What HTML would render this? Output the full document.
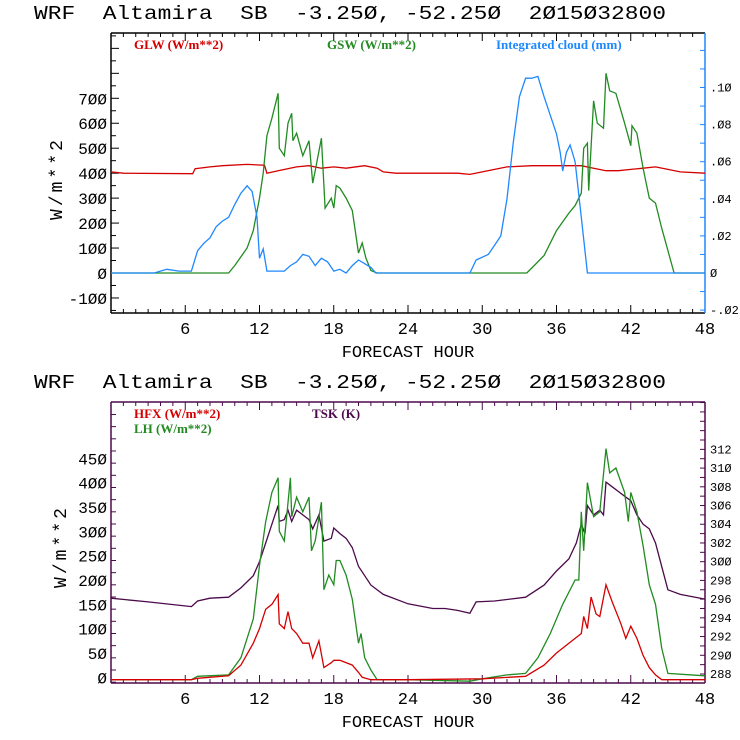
<!DOCTYPE html>
<html><head><meta charset="utf-8"><style>
body{margin:0;background:#fff}
svg{display:block}
text{font-family:"Liberation Mono",monospace}
.lg{font-family:"Liberation Serif",serif;font-weight:bold;font-size:13px}
</style></head><body>
<svg id="c" width="740" height="740" xmlns="http://www.w3.org/2000/svg"></svg>
<script>
// ---- top chart data ----
const glwHours=[0,1,6.6,6.8,8,9,11,12.4,12.6,13.5,15,16,17,18,19,20.5,21.5,22,23,28,29,30,31,32,34,38,39,40,41,42,43,44,45,46,48];
const glwValues=[405,400,398,418,425,430,435,432,400,410,425,430,420,425,420,430,420,405,400,400,395,405,415,425,430,430,420,410,410,415,420,425,415,405,400];
const gswHours=[0,9.5,10,11,11.5,12,12.3,12.6,13,13.5,13.6,14,14.3,14.6,14.7,15,15.5,16,16.3,16.5,17,17.3,17.8,18,18.2,18.5,19,19.5,20,20.3,20.6,21,21.5,33.6,34,35,36,37,37.5,38,38.2,38.5,38.6,39,39.3,39.8,40,40.3,40.8,41.5,42,42.1,42.5,43,43.5,44,44.5,45.5,48];
const gswValues=[0,0,30,100,170,300,400,550,620,720,500,470,600,640,530,560,470,530,360,410,540,260,300,260,350,340,300,250,80,120,60,10,0,0,20,70,170,240,270,320,500,520,330,690,600,580,800,730,720,600,510,590,560,420,300,280,180,0,0];
const cloudHours=[0,3.5,4.5,5.5,6.5,7,7.5,8,8.5,9,9.5,10,10.5,11,11.4,11.8,12,12.3,12.6,14,14.5,15,15.5,16,16.5,17,17.5,18,18.5,19,19.5,20,20.5,21,21.4,29,29.5,30.5,31,31.5,32,32.5,33,33.5,34,34.5,35,35.5,36,36.3,36.5,36.8,37.1,37.5,38,38.5,48];
const cloudValues=[0,0,.002,.001,.001,.012,.016,.019,.025,.028,.03,.037,.043,.047,.044,.03,.008,.013,.001,.001,.004,.006,.01,.009,.004,.008,.006,.001,.002,0,.004,.007,.005,.003,0,0,.007,.01,.015,.02,.04,.07,.095,.105,.105,.106,.095,.085,.075,.065,.055,.065,.069,.06,.03,0,0];
const topLeftTicks=[-100,0,100,200,300,400,500,600,700];
const topRightTicks=[-.02,0,.02,.04,.06,.08,.10];
const xTicks=[6,12,18,24,30,36,42,48];
// ---- bottom chart data ----
const tskHours=[0,3,6.5,7,8,9.5,10.5,11.5,12,12.5,13,13.5,13.6,14,14.3,14.6,15,15.5,16,16.3,16.8,17.2,17.8,18,18.5,19,19.5,20,20.5,21,22,24,26,27,28,29,29.5,31,33.5,35,36,37,37.6,38,38.3,38.5,39,39.5,39.8,40,40.5,41,41.5,42,42.5,43,43.5,44,44.5,45,46,48];
const tskValues=[296.1,295.7,295.2,295.8,296.1,296.2,297.2,298.5,300,302,304,306,304.3,304.5,305.5,304.3,305.5,305,304.5,303.5,305,302.2,302.5,303.6,303,302.5,301.5,299.5,298.5,297.5,296.5,295.5,295,295,294.8,294.5,295.7,295.8,296.2,297.5,299,300.3,302,304,303,306,305,305.5,305,308.5,308,307.5,307,306.5,305,304,303.5,302,299.5,297,296.5,296];
const lhHours=[0,6.5,7,9.5,10.5,11.5,12,12.5,13,13.5,13.6,14,14.5,14.6,15,15.5,16,16.2,16.5,17,17.2,17.6,18,18.2,18.5,19,19.5,20,20.2,20.5,21,21.5,24,29,30,32,33.5,34.5,35.5,36.5,37.5,37.8,38,38.2,38.5,39,39.5,40,40.3,40.8,41.5,41.8,42,42.5,43,43.5,44,44.5,45,48];
const lhValues=[-5,-5,2,5,40,120,230,320,380,410,300,280,410,330,370,340,370,260,280,360,180,210,190,240,240,210,160,70,90,40,15,-5,-5,-8,-3,5,8,40,90,150,200,200,340,260,400,330,340,470,420,430,380,320,380,340,270,190,150,60,8,3];
const hfxHours=[0,6.5,7,9.5,10.5,11.5,12,12.5,13,13.5,13.6,14,14.3,14.6,15,15.5,16,16.3,16.8,17.2,17.8,18,18.5,19.5,20,20.3,21,24,30,33.5,35,36,37,37.5,38,38.2,38.5,38.8,39.2,39.5,40,40.5,41.2,41.6,42,42.5,43,43.5,44,44.5,48];
const hfxValues=[-5,-5,-2,3,25,70,100,140,150,170,110,100,135,100,90,70,70,40,75,20,30,35,35,25,10,0,-5,-5,-3,2,25,50,70,80,90,125,100,165,130,125,190,155,110,80,105,80,45,20,5,-5,-5];
const botLeftTicks=[0,50,100,150,200,250,300,350,400,450];
const botRightTicks=[288,290,292,294,296,298,300,302,304,306,308,310,312];

const NS='http://www.w3.org/2000/svg';
const svg=document.getElementById('c');
function mk(tag,attrs,parent){const e=document.createElementNS(NS,tag);for(const k in attrs)e.setAttribute(k,attrs[k]);(parent||svg).appendChild(e);return e;}
const X0=111,X1=705;
function xs(h){return X0+(X1-X0)*h/48;}

function panel(cfg){
  const g=mk('g',{});
  
  
  const t=mk('text',{x:34,y:cfg.top-14,'font-size':'19px',fill:'#000','textLength':632,'lengthAdjust':'spacingAndGlyphs','xml:space':'preserve'},g);
  t.setAttribute('style','white-space:pre');
  t.textContent='WRF  Altamira  SB  -3.25\u00d8, -52.25\u00d8  2\u00d815\u00d832800';
  
  
  const yL=v=>cfg.y0+(v-cfg.l0)*cfg.lk;
  const yR=v=>cfg.y0r+(v-cfg.r0)*cfg.rk;
  mk('line',{x1:X0,y1:cfg.top,x2:X1,y2:cfg.top,stroke:cfg.bc,'stroke-width':1.5},g);
  mk('line',{x1:X0,y1:cfg.bot,x2:X1,y2:cfg.bot,stroke:cfg.bc,'stroke-width':1.5},g);
  mk('line',{x1:X0,y1:cfg.top,x2:X0,y2:cfg.bot,stroke:cfg.bc,'stroke-width':1.5},g);
  mk('line',{x1:X1,y1:cfg.top,x2:X1,y2:cfg.bot,stroke:cfg.rc,'stroke-width':1.5},g);
  for(let h=1;h<48;h++){const x=xs(h),L=h%6==0?8:4;
    mk('line',{x1:x,y1:cfg.top,x2:x,y2:cfg.top+L,stroke:cfg.bc},g);
    mk('line',{x1:x,y1:cfg.bot,x2:x,y2:cfg.bot-L,stroke:cfg.bc},g);}
  xTicks.forEach(h=>{const t=mk('text',{x:xs(h),y:cfg.bot+21,'font-size':'17px','text-anchor':'middle'},g);t.textContent=String(h);
    });
  const xt=mk('text',{x:408,y:cfg.bot+44,'font-size':'17px','text-anchor':'middle'},g);xt.textContent='FORECAST HOUR';
  
  const yt=mk('text',{x:0,y:0,'font-size':'18px','text-anchor':'middle',textLength:80,lengthAdjust:'spacing',transform:`translate(${cfg.ytx},${cfg.yty}) rotate(-90)`},g);yt.textContent='W/m**2';
  
  for(let v=cfg.lmin;v<=cfg.lmax;v+=cfg.lminor){const y=yL(v);if(y<cfg.top||y>cfg.bot)continue;
    const maj=Math.abs(Math.round(v/cfg.lmajor)*cfg.lmajor-v)<1e-6;
    mk('line',{x1:X0,y1:y,x2:X0+(maj?8:5),y2:y,stroke:cfg.bc},g);}
  cfg.lt.forEach(v=>{const t=mk('text',{x:X0-4,y:yL(v)+6,'font-size':'16px','text-anchor':'end'},g);t.textContent=String(v).replace(/0/g,'\u00d8');
    });
  for(let v=cfg.rmin;v<=cfg.rmax+1e-9;v+=cfg.rminor){const y=yR(v);if(y<cfg.top||y>cfg.bot)continue;
    mk('line',{x1:X1,y1:y,x2:X1-5,y2:y,stroke:cfg.rc},g);}
  cfg.rt.forEach(v=>{const t=mk('text',{x:X1+5,y:yR(v)+4,'font-size':'12px',fill:'#000'},g);t.textContent=cfg.rf(v);
    });
  cfg.series.forEach(s=>{
    const f=s.axis=='r'?yR:yL;
    const pts=s.h.map((h,i)=>xs(h).toFixed(1)+','+f(s.v[i]).toFixed(1)).join(' ');
    const p=mk('polyline',{points:pts,fill:'none',stroke:s.c,'stroke-width':1.3},g);
    
  });
  cfg.legend.forEach(l=>{const t=mk('text',{x:l.x,y:l.y,fill:l.c,class:'lg'},g);t.textContent=l.t;
    });
}
panel({name:'radiation-chart',top:33,bot:313,bc:'#000',rc:'#1e88ff',
  y0:273,l0:0,lk:-0.2496,lmin:-150,lmax:950,lminor:50,lmajor:100,lt:topLeftTicks,
  y0r:273,r0:0,rk:-1855,rmin:-.02,rmax:.12,rminor:.01,rt:topRightTicks,
  rf:v=>v==0?'\u00d8':(v<0?'-.':'.')+String(Math.round(Math.abs(v)*100)).padStart(2,'0').replace(/0/g,'\u00d8'),
  ytx:62,yty:180,
  series:[{name:'glw-line',h:glwHours,v:glwValues,c:'#d40000'},{name:'gsw-line',h:gswHours,v:gswValues,c:'#228b22'},{name:'cloud-line',h:cloudHours,v:cloudValues,c:'#1e88ff',axis:'r'}],
  legend:[{x:134,y:49,c:'#d40000',t:'GLW (W/m**2)'},{x:327,y:49,c:'#228b22',t:'GSW (W/m**2)'},{x:496,y:49,c:'#1e88ff',t:'Integrated cloud (mm)'}]});
panel({name:'flux-chart',top:402,bot:683,bc:'#4b0a4b',rc:'#4b0a4b',
  y0:677.3,l0:0,lk:-0.4867,lmin:-10,lmax:560,lminor:25,lmajor:50,lt:botLeftTicks,
  y0r:674,r0:288,rk:-9.36,rmin:287,rmax:320,rminor:1,rt:botRightTicks,
  rf:v=>String(v).replace(/0/g,'\u00d8'),
  ytx:66,yty:548,
  series:[{name:'tsk-line',h:tskHours,v:tskValues,c:'#4b0a4b',axis:'r'},{name:'lh-line',h:lhHours,v:lhValues,c:'#228b22'},{name:'hfx-line',h:hfxHours,v:hfxValues,c:'#d40000'}],
  legend:[{x:134,y:418,c:'#d40000',t:'HFX (W/m**2)'},{x:134,y:433,c:'#228b22',t:'LH  (W/m**2)'},{x:312,y:418,c:'#4b0a4b',t:'TSK (K)'}]});
</script>
</body></html>
